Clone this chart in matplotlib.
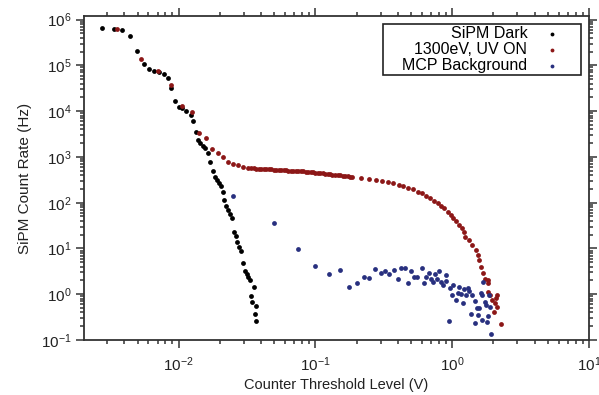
import numpy as np
import matplotlib
matplotlib.use("Agg")
import matplotlib.pyplot as plt
from matplotlib.patches import Rectangle
from matplotlib.ticker import LogLocator, LogFormatterMathtext, NullFormatter

# ---- data (threshold in V, rate in Hz) ----
dark_x = [0.00277, 0.00336, 0.00388, 0.00444, 0.00498, 0.00556, 0.00607, 0.00665,
          0.00718, 0.00778, 0.00832, 0.00885, 0.0094, 0.0100, 0.0106, 0.01135,
          0.0122, 0.0127, 0.0133, 0.0138, 0.0144, 0.0150, 0.0157, 0.0165,
          0.0170, 0.0177, 0.0183, 0.0191, 0.0197, 0.0204, 0.0210, 0.0216,
          0.0221, 0.0229, 0.0236, 0.0244, 0.0254, 0.0261, 0.0267, 0.0275,
          0.0287, 0.0294, 0.0305, 0.0316, 0.0323, 0.0330, 0.0355, 0.0340,
          0.0345, 0.0369, 0.0359, 0.0365]
dark_y = [6.4e5, 6.17e5, 5.87e5, 4.41e5, 2.04e5, 1.05e5, 8.26e4, 7.47e4,
          7.1e4, 6.65e4, 5.33e4, 3.23e4, 1.69e4, 1.25e4, 1.15e4, 1.03e4,
          8.4e3, 5.96e3, 3.43e3, 2.33e3, 1.97e3, 1.75e3, 1.53e3, 1.19e3,
          759, 498, 368, 311, 272, 234, 168, 114,
          84.3, 68.9, 56.4, 45.4, 23.2, 18.7, 14.0, 10.9,
          8.9, 4.73, 3.26, 2.76, 2.41, 2.04, 1.42, 0.93,
          0.69, 0.56, 0.37, 0.26]

uv_x = [0.00355, 0.00528, 0.0070, 0.00879, 0.01057, 0.01245, 0.01406, 0.0159,
        0.0176, 0.0194, 0.0210, 0.0229, 0.0249, 0.0271, 0.0294, 0.0321,
        0.034, 0.0355, 0.037, 0.0385, 0.040, 0.042, 0.0435, 0.0455, 0.0475,
        0.0495, 0.0515, 0.054, 0.056, 0.0585, 0.061, 0.0635, 0.066, 0.069,
        0.072, 0.075, 0.078, 0.0815, 0.085, 0.0885, 0.092, 0.096, 0.100,
        0.104, 0.108, 0.113, 0.118, 0.123, 0.128, 0.133, 0.139, 0.145,
        0.151, 0.158, 0.165, 0.172, 0.179, 0.186,
        0.216, 0.248, 0.277, 0.307, 0.340, 0.371, 0.406, 0.439, 0.475,
        0.513, 0.558, 0.601, 0.643, 0.687, 0.740, 0.787, 0.832, 0.875,
        0.925, 0.980, 1.021, 1.064, 1.125, 1.169, 1.209, 1.244, 1.330,
        1.406, 1.489, 1.556, 1.574, 1.619, 1.683, 1.741, 1.823, 1.841,
        1.811, 1.893, 1.950, 2.142, 2.084, 2.061, 2.142, 2.027, 2.266]
uv_y = [6.17e5, 1.35e5, 7.47e4, 3.7e4, 1.29e4, 9.66e3, 3.36e3, 2.61e3,
        1.47e3, 1.19e3, 990, 782, 697, 662, 608, 578,
        565, 560, 556, 552, 548, 545, 540, 537, 533,
        529, 526, 520, 518, 514, 510, 505, 502, 498,
        494, 490, 487, 483, 479, 475, 470, 466, 452,
        455, 446, 440, 432, 425, 418, 412, 405, 398,
        393, 388, 382, 378, 372, 368,
        350, 333, 307, 301, 277, 264, 246, 230, 211,
        195, 173, 160, 142, 126, 110, 96.6, 84.3, 75.1,
        63.3, 53.6, 46.8, 40.3, 32.4, 27.5, 23.2, 18.0, 15.2,
        11.9, 9.2, 7.18, 5.58, 3.98, 2.86, 2.11, 2.04, 1.73,
        1.13, 0.96, 0.75, 0.96, 0.81, 0.63, 0.53, 0.41, 0.22]

mcp_x = [0.0251, 0.050, 0.0748, 0.100, 0.125, 0.150, 0.175, 0.200, 0.225,
         0.248, 0.274, 0.300, 0.324, 0.347, 0.375, 0.399, 0.423, 0.449,
         0.472, 0.497, 0.528, 0.552, 0.597, 0.621, 0.646, 0.671, 0.699,
         0.723, 0.748, 0.773, 0.794, 0.828, 0.849, 0.893, 0.908, 0.940,
         0.966, 0.995, 1.016, 1.064, 1.094, 1.130, 1.164, 1.189, 1.217,
         1.259, 1.294, 1.330, 1.361, 1.406, 1.455, 1.472, 1.521, 1.541,
         1.582, 1.629, 1.648, 1.663, 1.690, 1.722, 1.762, 1.791, 1.832,
         1.862, 1.884, 1.936]
mcp_y = [142, 35.3, 9.7, 4.13, 2.72, 3.38, 1.46, 1.73, 2.41,
         2.22, 3.50, 2.86, 3.26, 2.80, 3.38, 2.11, 3.79, 3.68,
         1.78, 3.16, 2.34, 2.34, 3.73, 1.78, 2.41, 2.95, 2.11,
         1.87, 2.72, 2.15, 3.26, 1.82, 1.59, 2.63, 1.94, 0.26,
         1.35, 0.96, 1.59, 0.75, 1.08, 1.42, 1.00, 0.65, 1.28,
         0.96, 1.35, 1.19, 0.37, 0.96, 0.72, 0.24, 0.50, 0.35,
         0.50, 1.05, 0.28, 0.96, 1.87, 0.69, 0.58, 0.25, 0.33,
         0.96, 0.53, 0.133]

labels = ["SiPM Dark", "1300eV, UV ON", "MCP Background"]
colors = ["#000000", "#8c1717", "#28307f"]

plt.rcParams['font.family'] = ['Liberation Sans', 'DejaVu Sans']
plt.rcParams['mathtext.fontset'] = 'custom'
plt.rcParams['mathtext.rm'] = 'Liberation Sans'
plt.rcParams['mathtext.it'] = 'Liberation Sans:italic'
plt.rcParams['mathtext.default'] = 'regular'

fig = plt.figure(figsize=(5.99, 3.95), dpi=100)
ax = fig.add_axes([0.1402, 0.1392, 0.8431, 0.8203])

for xs, ys, c, lab in zip([dark_x, uv_x, mcp_x], [dark_y, uv_y, mcp_y], colors, labels):
    ax.scatter(xs, ys, s=12, color=c, linewidths=0, label=lab, zorder=3)

ax.set_xscale('log')
ax.set_yscale('log')
ax.set_xlim(2.03e-3, 10)
ax.set_ylim(0.1, 1.2e6)

ax.xaxis.set_major_locator(LogLocator(base=10, numticks=20))
ax.yaxis.set_major_locator(LogLocator(base=10, numticks=20))
ax.xaxis.set_minor_locator(LogLocator(base=10, subs=np.arange(2, 10), numticks=20))
ax.yaxis.set_minor_locator(LogLocator(base=10, subs=np.arange(2, 10), numticks=20))
ax.xaxis.set_major_formatter(LogFormatterMathtext())
ax.yaxis.set_major_formatter(LogFormatterMathtext())
ax.xaxis.set_minor_formatter(NullFormatter())
ax.yaxis.set_minor_formatter(NullFormatter())

spine_col = "#333333"
for sp in ax.spines.values():
    sp.set_color(spine_col)
    sp.set_linewidth(1.3)
ax.tick_params(which='both', direction='out', top=True, right=True,
               color=spine_col, width=1.1, labelsize=11, labelcolor='#222222')
ax.tick_params(which='major', length=6)
ax.tick_params(which='minor', length=3)
ax.tick_params(axis='x', which='major', pad=5)
ax.tick_params(axis='y', which='major', pad=3)

ax.set_xlabel("Counter Threshold Level (V)", fontsize=10.5, color='#222222', labelpad=3)
ax.set_ylabel("SiPM Count Rate (Hz)", fontsize=11, color='#222222', labelpad=6)

# legend box drawn separately so its padding matches the reference
ax.add_patch(Rectangle((0.592, 0.818), 0.392, 0.157, transform=ax.transAxes,
                       facecolor='white', edgecolor='#222222', linewidth=1.2, zorder=4))
leg = ax.legend(loc='upper right', bbox_to_anchor=(0.943, 0.968), markerfirst=False,
                fontsize=11.5, frameon=False, handletextpad=1.06, labelspacing=0.06,
                borderpad=0, handlelength=1.0, borderaxespad=0, markerscale=0.8)
leg.set_zorder(5)

fig.savefig("out.png", dpi=100)
